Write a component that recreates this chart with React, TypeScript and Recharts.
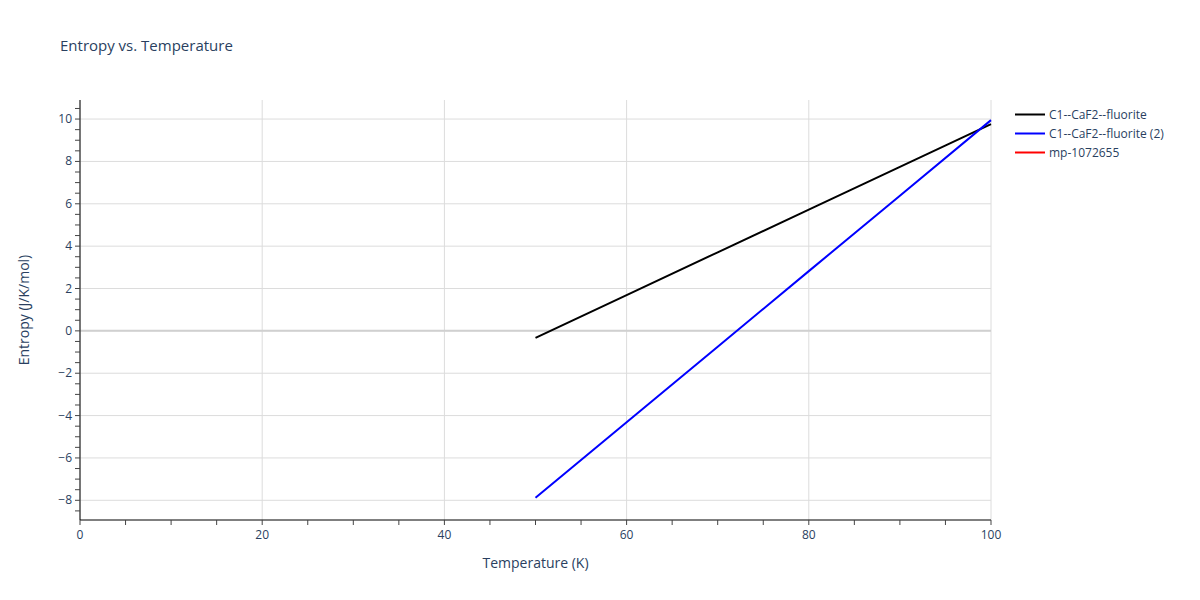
import React from 'react';
import { LineChart, Line, XAxis, YAxis, CartesianGrid, ReferenceLine } from 'recharts';

// temperature (K)
const temperature = [50, 60, 70, 80, 90, 100];
// entropy (J/K/mol)
const fluorite = [-0.33, 1.69, 3.71, 5.72, 7.74, 9.76];
const fluorite2 = [-7.88, -4.31, -0.75, 2.82, 6.38, 9.95];
const mp1072655: (number | null)[] = [null, null, null, null, null, null];

const xMajor = [0, 20, 40, 60, 80, 100];
const yMajor = [-8, -6, -4, -2, 0, 2, 4, 6, 8, 10];
const xTicks = Array.from({ length: 21 }, (_, i) => i * 5);
const yTicks = Array.from({ length: 39 }, (_, i) => -8.5 + i * 0.5);

const seriesNames = ['C1--CaF2--fluorite', 'C1--CaF2--fluorite (2)', 'mp-1072655'];
const seriesColors = ['#000000', '#0000ff', '#ff0000'];

const data = temperature.map((t, i) => ({
  T: t,
  a: fluorite[i],
  b: fluorite2[i],
  c: mp1072655[i],
}));

const FONT = '"Open Sans", verdana, arial, sans-serif';
const TXT = '#2a3f5f';

const XTick = (props: any) => {
  const { x, y, payload } = props;
  const major = xMajor.includes(payload.value);
  return (
    <g>
      <line x1={x} x2={x} y1={y} y2={y + 5} stroke="#444" strokeWidth={1} />
      {major && (
        <text x={x} y={y + 19} textAnchor="middle" fontSize={12} fill={TXT} fontFamily={FONT}>
          {payload.value}
        </text>
      )}
    </g>
  );
};

const YTick = (props: any) => {
  const { x, y, payload } = props;
  const major = yMajor.includes(payload.value);
  const v = payload.value;
  return (
    <g>
      <line x1={x - 5} x2={x} y1={y} y2={y} stroke="#444" strokeWidth={1} />
      {major && (
        <text x={x - 8} y={y + 4} textAnchor="end" fontSize={12} fill={TXT} fontFamily={FONT}>
          {v < 0 ? '\u2212' + Math.abs(v) : v}
        </text>
      )}
    </g>
  );
};

export default function App() {
  return (
    <div style={{ position: 'fixed', left: 0, top: 0, width: 1200, height: 600, background: '#fff', fontFamily: FONT }}>
      <div style={{ position: 'absolute', left: 60, top: 35, fontSize: 15, color: TXT }}>
        Entropy vs. Temperature
      </div>
      <LineChart width={1200} height={600} data={data} margin={{ top: 100, right: 209, bottom: 0, left: 0 }}>
        <CartesianGrid stroke="#dcdcdc" horizontalValues={yMajor} verticalValues={xMajor} />
        <ReferenceLine y={0} stroke="#d0d0d0" strokeWidth={2} />
        <XAxis
          dataKey="T"
          type="number"
          domain={[0, 100]}
          ticks={xTicks}
          interval={0}
          tickSize={0}
          tickMargin={0}
          tick={<XTick />}
          height={80}
          stroke="#000"
          label={{ value: 'Temperature (K)', position: 'insideBottom', offset: 32, fill: TXT, fontSize: 14, fontFamily: FONT }}
        />
        <YAxis
          type="number"
          domain={[-8.93, 10.9]}
          ticks={yTicks}
          interval={0}
          tickSize={0}
          tickMargin={0}
          tick={<YTick />}
          width={80}
          stroke="#000"
          allowDataOverflow
          label={{ value: 'Entropy (J/K/mol)', angle: -90, position: 'insideLeft', offset: 24, fill: TXT, fontSize: 14, fontFamily: FONT, style: { textAnchor: 'middle' } }}
        />
        <Line dataKey="a" stroke={seriesColors[0]} strokeWidth={2} dot={false} isAnimationActive={false} />
        <Line dataKey="b" stroke={seriesColors[1]} strokeWidth={2} dot={false} isAnimationActive={false} />
        <Line dataKey="c" stroke={seriesColors[2]} strokeWidth={2} dot={false} isAnimationActive={false} />
      </LineChart>
      <div style={{ position: 'absolute', left: 1013, top: 105 }}>
        {seriesNames.map((name, i) => (
          <div key={name} style={{ display: 'flex', alignItems: 'center', height: 19, fontSize: 12, color: TXT }}>
            <svg width={36} height={19}>
              <line x1={2} x2={32} y1={9.5} y2={9.5} stroke={seriesColors[i]} strokeWidth={2} />
            </svg>
            <span>{name}</span>
          </div>
        ))}
      </div>
    </div>
  );
}
